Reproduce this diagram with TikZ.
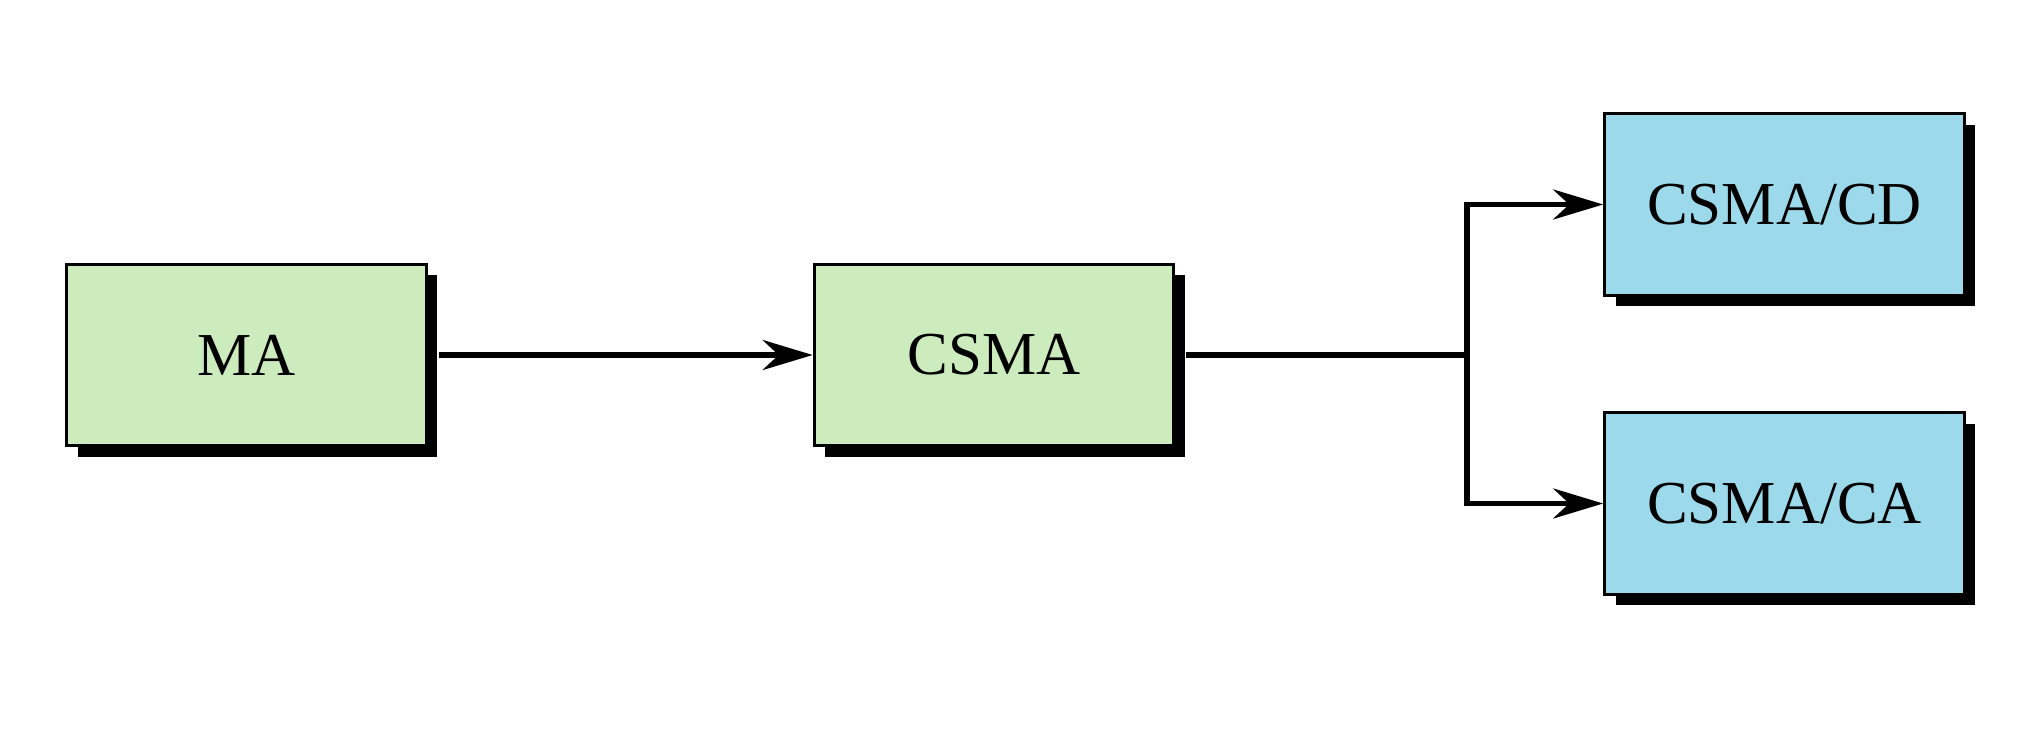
\documentclass[tikz,border=0pt]{standalone}
\usepackage{fontspec}
\setmainfont{Liberation Serif}
\usetikzlibrary{arrows.meta,shadows}
\definecolor{boxgreen}{RGB}{205,236,190}
\definecolor{boxblue}{RGB}{156,217,234}
\tikzset{
  blockbox/.style={draw=black, line width=3.2pt, minimum width=359.5pt, minimum height=181.5pt,
    inner sep=0pt, font=\fontsize{61}{72}\selectfont,
    general shadow={shadow xshift=11pt, shadow yshift=-11pt, fill=black, opacity=1}},
  greenbox/.style={blockbox, fill=boxgreen},
  bluebox/.style={blockbox, fill=boxblue},
  conn/.style={line width=5.5pt, draw=black},
  arr/.style={conn, -{Stealth[length=50pt, width=30pt, inset=16pt]}}
}
\begin{document}
\begin{tikzpicture}[x=1pt,y=1pt]
\useasboundingbox (0,0) rectangle (2042,-739);
\node[greenbox] (ma) at (246.5,-355) {MA};
\node[greenbox] (csma) at (994,-355) {CSMA};
\node[bluebox] (cd) at (1784.5,-204.5) {CSMA/CD};
\node[bluebox] (ca) at (1784.5,-503.5) {CSMA/CA};
\coordinate (br) at (1467,-355);
\draw[arr] ([xshift=11pt]ma.east) -- (csma.west);
\draw[conn] ([xshift=11pt]csma.east) -- (br);
\draw[arr] (br) |- (cd.west);
\draw[arr] (br) |- (ca.west);
\end{tikzpicture}
\end{document}
